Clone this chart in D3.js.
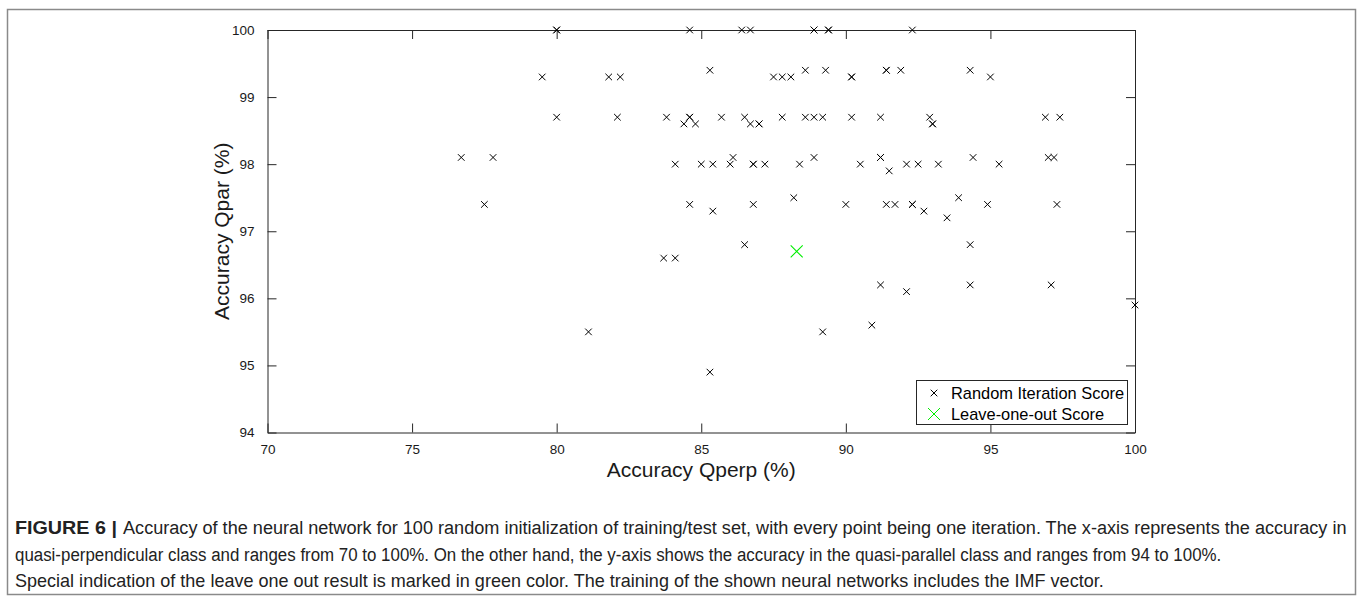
<!DOCTYPE html>
<html>
<head>
<meta charset="utf-8">
<script src="https://cdn.jsdelivr.net/npm/d3@7"></script>
<style>
  body { margin: 0; background: #fff; }
  svg { display: block; }
</style>
</head>
<body>
<div id="chart"></div>
<script>
// random iteration scores (Qperp, Qpar)
const qperp = [
    80.0, 84.6, 86.4, 86.7, 88.9, 89.4, 92.3,
    85.3, 88.6, 89.3, 91.4, 91.9, 94.3,
    79.5, 81.8, 82.2, 87.5, 87.8, 88.1, 90.2, 95.0,
    80.0, 82.1, 83.8, 84.6, 85.7, 86.5, 87.8, 88.6, 88.9, 89.2, 90.2, 91.2, 92.9, 96.9, 97.4,
    84.4, 84.8, 86.7, 87.0, 93.0,
    76.7, 77.8, 86.1, 88.9, 91.2, 94.4, 97.0, 97.2,
    84.1, 85.0, 85.4, 86.0, 86.8, 87.2, 88.4, 90.5, 92.1, 92.5, 93.2, 95.3,
    91.5,
    88.2, 93.9,
    77.5, 84.6, 86.8, 90.0, 91.4, 91.7, 92.3, 94.9, 97.3,
    85.4, 92.7,
    93.5,
    86.5, 94.3,
    83.7, 84.1,
    91.2, 94.3, 97.1,
    92.1,
    100.0,
    90.9,
    81.1, 89.2,
    85.3,
    93.0, 88.9, 89.4, 90.2, 87.0, 86.8, 91.2, 92.3, 84.6, 80.0, 91.4
];
const qpar = [
    100, 100, 100, 100, 100, 100, 100,
    99.4, 99.4, 99.4, 99.4, 99.4, 99.4,
    99.3, 99.3, 99.3, 99.3, 99.3, 99.3, 99.3, 99.3,
    98.7, 98.7, 98.7, 98.7, 98.7, 98.7, 98.7, 98.7, 98.7, 98.7, 98.7, 98.7, 98.7, 98.7, 98.7,
    98.6, 98.6, 98.6, 98.6, 98.6,
    98.1, 98.1, 98.1, 98.1, 98.1, 98.1, 98.1, 98.1,
    98.0, 98.0, 98.0, 98.0, 98.0, 98.0, 98.0, 98.0, 98.0, 98.0, 98.0, 98.0,
    97.9,
    97.5, 97.5,
    97.4, 97.4, 97.4, 97.4, 97.4, 97.4, 97.4, 97.4, 97.4,
    97.3, 97.3,
    97.2,
    96.8, 96.8,
    96.6, 96.6,
    96.2, 96.2, 96.2,
    96.1,
    95.9,
    95.6,
    95.5, 95.5,
    94.9,
    98.6, 100, 100, 99.3, 98.6, 98.0, 98.1, 97.4, 98.7, 100, 99.4
];

// leave-one-out result
const looQperp = [88.3];
const looQpar = [96.7];

const xTicks = [70, 75, 80, 85, 90, 95, 100];
const yTicks = [94, 95, 96, 97, 98, 99, 100];
const legendLabels = ["Random Iteration Score", "Leave-one-out Score"];
const xTitle = "Accuracy Qperp (%)";
const yTitle = "Accuracy Qpar (%)";
const captionHead = "FIGURE 6 |";
const captionLines = [
    "Accuracy of the neural network for 100 random initialization of training/test set, with every point being one iteration. The x-axis represents the accuracy in",
    "quasi-perpendicular class and ranges from 70 to 100%. On the other hand, the y-axis shows the accuracy in the quasi-parallel class and ranges from 94 to 100%.",
    "Special indication of the leave one out result is marked in green color. The training of the shown neural networks includes the IMF vector."
];

const W = 1360, H = 596;
const plot = {left: 267.5, right: 1135, top: 30, bottom: 432.5};
const AXIS = "#262626";
const GREEN = "#00ee00";
const FONT = "'Liberation Sans', Arial, Helvetica, sans-serif";

const svg = d3.select("#chart")
    .append("svg")
    .attr("width", W)
    .attr("height", H);

// figure frame
svg.append("rect")
    .attr("x", 7.5).attr("y", 9.5)
    .attr("width", 1348).attr("height", 585)
    .attr("fill", "none")
    .attr("stroke", "#8a8a8a")
    .attr("stroke-width", 1.5);

const x = d3.scaleLinear().domain([70, 100]).range([plot.left, plot.right]);
const y = d3.scaleLinear().domain([94, 100]).range([plot.bottom, plot.top]);

function styleAxis(g) {
    g.select(".domain").attr("stroke", AXIS).attr("stroke-width", 1);
    g.selectAll(".tick line").attr("stroke", AXIS);
    g.selectAll(".tick text")
        .attr("fill", "#1a1a1a")
        .style("font-family", FONT)
        .style("font-size", "13.5px");
}

svg.append("g")
    .attr("transform", `translate(0,${plot.bottom})`)
    .call(d3.axisBottom(x).tickValues(xTicks).tickFormat(d3.format("d"))
        .tickSizeInner(-9).tickSizeOuter(0).tickPadding(12))
    .call(styleAxis);

svg.append("g")
    .attr("transform", `translate(0,${plot.top})`)
    .call(d3.axisTop(x).tickValues(xTicks).tickFormat("")
        .tickSizeInner(-9).tickSizeOuter(0))
    .call(styleAxis);

svg.append("g")
    .attr("transform", `translate(${plot.left},0)`)
    .call(d3.axisLeft(y).tickValues(yTicks).tickFormat(d3.format("d"))
        .tickSizeInner(-9).tickSizeOuter(0).tickPadding(13))
    .call(styleAxis);

svg.append("g")
    .attr("transform", `translate(${plot.right},0)`)
    .call(d3.axisRight(y).tickValues(yTicks).tickFormat("")
        .tickSizeInner(-9).tickSizeOuter(0))
    .call(styleAxis);

// axis titles
svg.append("text")
    .attr("x", (plot.left + plot.right) / 2)
    .attr("y", 477)
    .attr("text-anchor", "middle")
    .style("font-family", FONT)
    .style("font-size", "21px")
    .attr("fill", "#1a1a1a")
    .text(xTitle);

svg.append("text")
    .attr("transform", `translate(229,${(plot.top + plot.bottom) / 2}) rotate(-90)`)
    .attr("text-anchor", "middle")
    .style("font-family", FONT)
    .style("font-size", "21px")
    .attr("fill", "#1a1a1a")
    .text(yTitle);

function cross(cx, cy, r) {
    return `M${cx - r},${cy - r}L${cx + r},${cy + r}M${cx - r},${cy + r}L${cx + r},${cy - r}`;
}

const points = qperp.map((v, i) => ({qperp: v, qpar: qpar[i]}));

svg.append("g")
    .selectAll("path")
    .data(points)
    .enter().append("path")
    .attr("d", d => cross(x(d.qperp), y(d.qpar), 3.3))
    .attr("stroke", "#000")
    .attr("stroke-width", 1)
    .attr("fill", "none");

svg.append("g")
    .selectAll("path")
    .data(looQperp.map((v, i) => ({qperp: v, qpar: looQpar[i]})))
    .enter().append("path")
    .attr("d", d => cross(x(d.qperp), y(d.qpar), 6))
    .attr("stroke", GREEN)
    .attr("stroke-width", 1.1)
    .attr("fill", "none");

// legend
const legend = svg.append("g");
legend.append("rect")
    .attr("x", 916.5).attr("y", 380.5)
    .attr("width", 211).attr("height", 44)
    .attr("fill", "#fff")
    .attr("stroke", AXIS)
    .attr("stroke-width", 1);

legendLabels.forEach(function (label, i) {
    const cy = 393 + i * 21;
    legend.append("path")
        .attr("d", cross(934, cy, i === 0 ? 3.3 : 6))
        .attr("stroke", i === 0 ? "#000" : GREEN)
        .attr("stroke-width", 1)
        .attr("fill", "none");
    legend.append("text")
        .attr("x", 951)
        .attr("y", cy + 6)
        .style("font-family", FONT)
        .style("font-size", "16.4px")
        .attr("fill", "#000")
        .text(label);
});

// caption, squeezed horizontally to look like the condensed journal font
const CAPFONT = "'Liberation Sans Narrow', 'Arial Narrow', 'Liberation Sans', sans-serif";

function fitText(t, x0, x1, baseline) {
    const w = t.node().getComputedTextLength();
    t.attr("transform", `translate(${x0},${baseline}) scale(${(x1 - x0) / w},1)`);
}

const head = svg.append("text")
    .attr("x", 0).attr("y", 0)
    .style("font-family", CAPFONT)
    .style("font-size", "19px")
    .style("font-weight", "bold")
    .attr("fill", "#222")
    .text(captionHead);
fitText(head, 15, 117, 534);

const capEnds = [1348, 1222, 1104];
captionLines.forEach(function (line, i) {
    const x0 = i === 0 ? 123 : 15;
    const t = svg.append("text")
        .attr("x", 0).attr("y", 0)
        .style("font-family", CAPFONT)
        .style("font-size", "19px")
        .attr("fill", "#222")
        .text(line);
    fitText(t, x0, capEnds[i], 534 + i * 26.5);
});
</script>
</body>
</html>
